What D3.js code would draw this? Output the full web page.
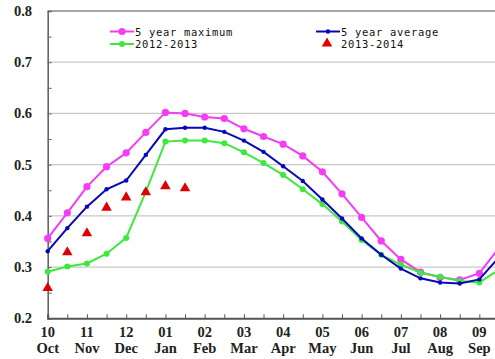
<!DOCTYPE html>
<html><head><meta charset="utf-8">
<script src="https://cdn.jsdelivr.net/npm/d3@7"></script>
<style>body{margin:0;background:#fff;}svg{display:block;}</style>
</head><body>
<svg id="c" width="495" height="359"></svg>
<script>
const monthNums = ["10","11","12","01","02","03","04","05","06","07","08","09"];
const monthNames = ["Oct","Nov","Dec","Jan","Feb","Mar","Apr","May","Jun","Jul","Aug","Sep"];
const yTicks = [0.2,0.3,0.4,0.5,0.6,0.7,0.8];
const max5 = [0.356,0.406,0.457,0.496,0.523,0.563,0.602,0.600,0.593,0.590,0.570,0.555,0.540,0.517,0.486,0.443,0.397,0.351,0.315,0.290,0.280,0.275,0.288,0.337];
const avg5 = [0.331,0.376,0.418,0.452,0.469,0.519,0.569,0.572,0.572,0.564,0.547,0.525,0.497,0.468,0.432,0.395,0.356,0.324,0.297,0.278,0.270,0.268,0.276,0.319];
const y1213 = [0.291,0.301,0.307,0.326,0.357,0.447,0.545,0.547,0.547,0.542,0.524,0.503,0.480,0.452,0.423,0.389,0.353,0.324,0.305,0.289,0.281,0.273,0.270,0.295];
const y1314 = [0.259,0.329,0.366,0.416,0.436,0.446,0.458,0.454];

const svg = d3.select("#c");
const x = d3.scaleLinear().domain([0,24]).range([47.7,518.6]);
const y = d3.scaleLinear().domain([0.2,0.8]).range([318.3,11]);

// gridlines
svg.append("g").selectAll("line").data([0.3,0.4,0.5,0.6,0.7]).join("line")
  .attr("x1",x(0)).attr("x2",495).attr("y1",d=>y(d)).attr("y2",d=>y(d))
  .attr("stroke","#c8c8c8").attr("stroke-width",1.2);
// top border
svg.append("line").attr("x1",x(0)).attr("x2",495).attr("y1",y(0.8)).attr("y2",y(0.8))
  .attr("stroke","#8a8a8a").attr("stroke-width",1.6);

// y axis
const yAxis = d3.axisRight(y).tickValues(d3.range(0.2,0.801,0.05)).tickSize(4).tickFormat("");
const ya = svg.append("g").attr("transform",`translate(${x(0)},0)`).call(yAxis);
ya.select(".domain").attr("stroke","#666").attr("stroke-width",1.6);
ya.selectAll(".tick line").attr("stroke","#666");
svg.append("g").selectAll("text").data(yTicks).join("text")
  .attr("x",32).attr("y",d=>y(d)+5).attr("text-anchor","end")
  .attr("font-family","Liberation Serif").attr("font-weight","bold").attr("font-size","14.5px")
  .attr("fill","#222").text(d=>d.toFixed(1));

// x axis
const xAxis = d3.axisTop(x).tickValues(d3.range(0,25,1)).tickSize(4).tickFormat("");
const xa = svg.append("g").attr("transform",`translate(0,${y(0.2)})`).call(xAxis);
xa.select(".domain").attr("stroke","#555").attr("stroke-width",2);
xa.selectAll(".tick line").attr("stroke","#555");
const xl = svg.append("g").attr("font-family","Liberation Serif").attr("font-weight","bold")
  .attr("font-size","14.5px").attr("fill","#222").attr("text-anchor","middle");
xl.selectAll("text.n").data(monthNums).join("text").attr("class","n")
  .attr("x",(d,i)=>x(i*2)).attr("y",337).text(d=>d);
xl.selectAll("text.m").data(monthNames).join("text").attr("class","m")
  .attr("x",(d,i)=>x(i*2)).attr("y",353).text(d=>d);

const line = d3.line().x((d,i)=>x(i)).y(d=>y(d));
const cMag="#f53cf5", cBlue="#0808b8", cGreen="#3ee83e", cRed="#e00000";
function series(data,color,r,w){
  svg.append("path").datum(data).attr("d",line).attr("fill","none").attr("stroke",color).attr("stroke-width",w);
  svg.append("g").selectAll("circle").data(data).join("circle")
    .attr("cx",(d,i)=>x(i)).attr("cy",d=>y(d)).attr("r",r).attr("fill",color);
}
series(max5,cMag,3.6,2);
series(y1213,cGreen,3,2);
series(avg5,cBlue,2.2,2);
const tri = d3.symbol().type(d3.symbolTriangle).size(48);
svg.append("g").selectAll("path").data(y1314).join("path")
  .attr("transform",(d,i)=>`translate(${x(i)},${y(d)})`).attr("d",tri).attr("fill",cRed);

// legend
const lg = svg.append("g").attr("font-family","DejaVu Sans Mono").attr("font-size","10.5px")
  .attr("letter-spacing","0.68px").attr("fill","#111");
function legLine(x0,yy,color,r,label){
  lg.append("line").attr("x1",x0).attr("x2",x0+24).attr("y1",yy).attr("y2",yy).attr("stroke",color).attr("stroke-width",2);
  lg.append("circle").attr("cx",x0+12).attr("cy",yy).attr("r",r).attr("fill",color);
  lg.append("text").attr("x",x0+25).attr("y",yy+4).text(label);
}
legLine(110,31.5,cMag,3.6,"5 year maximum");
legLine(110,44,cGreen,3,"2012-2013");
legLine(316,31.5,cBlue,2.2,"5 year average");
lg.append("path").attr("transform","translate(327,43.5)").attr("d",tri).attr("fill",cRed);
lg.append("text").attr("x",341).attr("y",48).text("2013-2014");
</script>
</body></html>
